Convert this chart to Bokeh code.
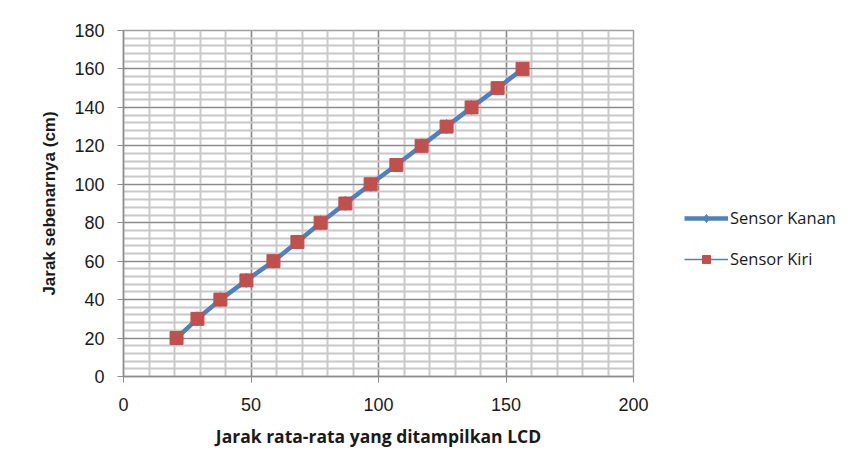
from bokeh.plotting import figure
from bokeh.models import Legend, LegendItem, FixedTicker, Range1d
from bokeh.embed import file_html
from bokeh.resources import INLINE

# data
x_kanan = [20.8, 29.0, 38.0, 48.2, 58.8, 68.2, 77.3, 87.0, 96.9, 107.0, 116.9, 126.7, 136.5, 146.7, 156.5]
y_kanan = [20, 30, 40, 50, 60, 70, 80, 90, 100, 110, 120, 130, 140, 150, 160]
x_kiri = [20.8, 29.0, 38.0, 48.2, 58.8, 68.2, 77.3, 87.0, 96.9, 107.0, 116.9, 126.7, 136.5, 146.7, 156.5]
y_kiri = [20, 30, 40, 50, 60, 70, 80, 90, 100, 110, 120, 130, 140, 150, 160]
x_ticks = [0, 50, 100, 150, 200]
y_ticks = [0, 20, 40, 60, 80, 100, 120, 140, 160, 180]

BLUE = "#4F81BD"
RED = "#C0504D"

p = figure(frame_width=510, frame_height=346, output_backend="svg", toolbar_location=None,
           x_range=Range1d(0, 200), y_range=Range1d(0, 180),
           min_border_left=123, min_border_right=10, min_border_top=30, min_border_bottom=90)
p.outline_line_color = "#a0a0a0"
p.outline_line_width = 1.5

p.xaxis.ticker = FixedTicker(ticks=x_ticks, minor_ticks=list(range(0, 201, 10)))
p.yaxis.ticker = FixedTicker(ticks=y_ticks, minor_ticks=list(range(0, 181, 4)))

for ax in (p.xaxis, p.yaxis):
    ax.axis_line_color = "#8c8c8c"
    ax.axis_line_width = 1.5
    ax.major_tick_line_color = "#8c8c8c"
    ax.major_tick_in = 0
    ax.major_tick_out = 6
    ax.minor_tick_line_color = None
    ax.major_label_text_font = "Liberation Sans"
    ax.major_label_text_font_size = "18px"
    ax.major_label_text_color = "#1a1a1a"
    ax.axis_label_text_font_style = "bold"
    ax.axis_label_text_color = "#1a1a1a"

p.xaxis.major_label_standoff = 15
p.yaxis.major_label_standoff = 13
p.xaxis.axis_label = "Jarak rata-rata yang ditampilkan LCD"
p.xaxis.axis_label_text_font = "Open Sans"
p.xaxis.axis_label_text_font_size = "17.5px"
p.xaxis.axis_label_standoff = 10
p.yaxis.axis_label = "Jarak sebenarnya (cm)"
p.yaxis.axis_label_text_font = "Liberation Sans"
p.yaxis.axis_label_text_font_size = "17px"
p.yaxis.axis_label_standoff = 12

for g in (p.xgrid, p.ygrid):
    g.grid_line_color = "#8a8a8a"
    g.grid_line_width = 1.2
    g.minor_grid_line_color = "#c8c8c8"
    g.minor_grid_line_width = 2

l1 = p.line(x_kanan, y_kanan, line_color=BLUE, line_width=4.5)
m1 = p.scatter(x_kanan, y_kanan, marker="diamond", size=14, fill_color=BLUE, line_color=BLUE)
l2 = p.line(x_kiri, y_kiri, line_color=BLUE, line_width=1.5)
m2 = p.scatter(x_kiri, y_kiri, marker="square", size=13, fill_color=RED, line_color=RED)

legend = Legend(items=[LegendItem(label="Sensor Kanan", renderers=[l1, m1]),
                       LegendItem(label="Sensor Kiri", renderers=[l2, m2])],
                location=(51, 106), border_line_color=None, background_fill_alpha=0,
                label_text_font="Open Sans", label_text_font_size="16.5px",
                label_text_color="#1a1a1a", glyph_width=44, spacing=18, label_standoff=2,
                margin=0, padding=4)
p.add_layout(legend, "right")

open("out.html", "w").write(file_html(p, INLINE))
